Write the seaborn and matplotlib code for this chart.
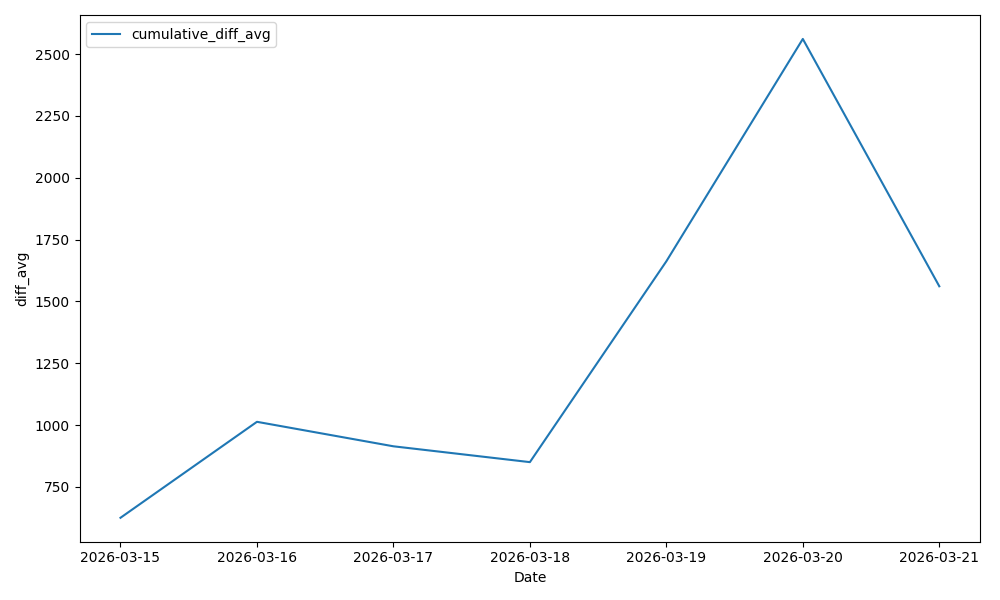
import matplotlib
matplotlib.use("Agg")
import matplotlib.pyplot as plt
import seaborn as sns
import pandas as pd

dates = ["2026-03-15", "2026-03-16", "2026-03-17", "2026-03-18",
         "2026-03-19", "2026-03-20", "2026-03-21"]
cumulative_diff_avg = [625, 1013, 914, 850, 1662, 2561, 1561]

df = pd.DataFrame({"Date": dates, "cumulative_diff_avg": cumulative_diff_avg})

fig, ax = plt.subplots(figsize=(10, 6), dpi=100)
sns.lineplot(data=df, x="Date", y="cumulative_diff_avg", ax=ax,
             label="cumulative_diff_avg", color="#1f77b4")
ax.set_xlabel("Date")
ax.set_ylabel("diff_avg")
ax.legend(loc="upper left")
fig.tight_layout()
fig.savefig("out.png")
